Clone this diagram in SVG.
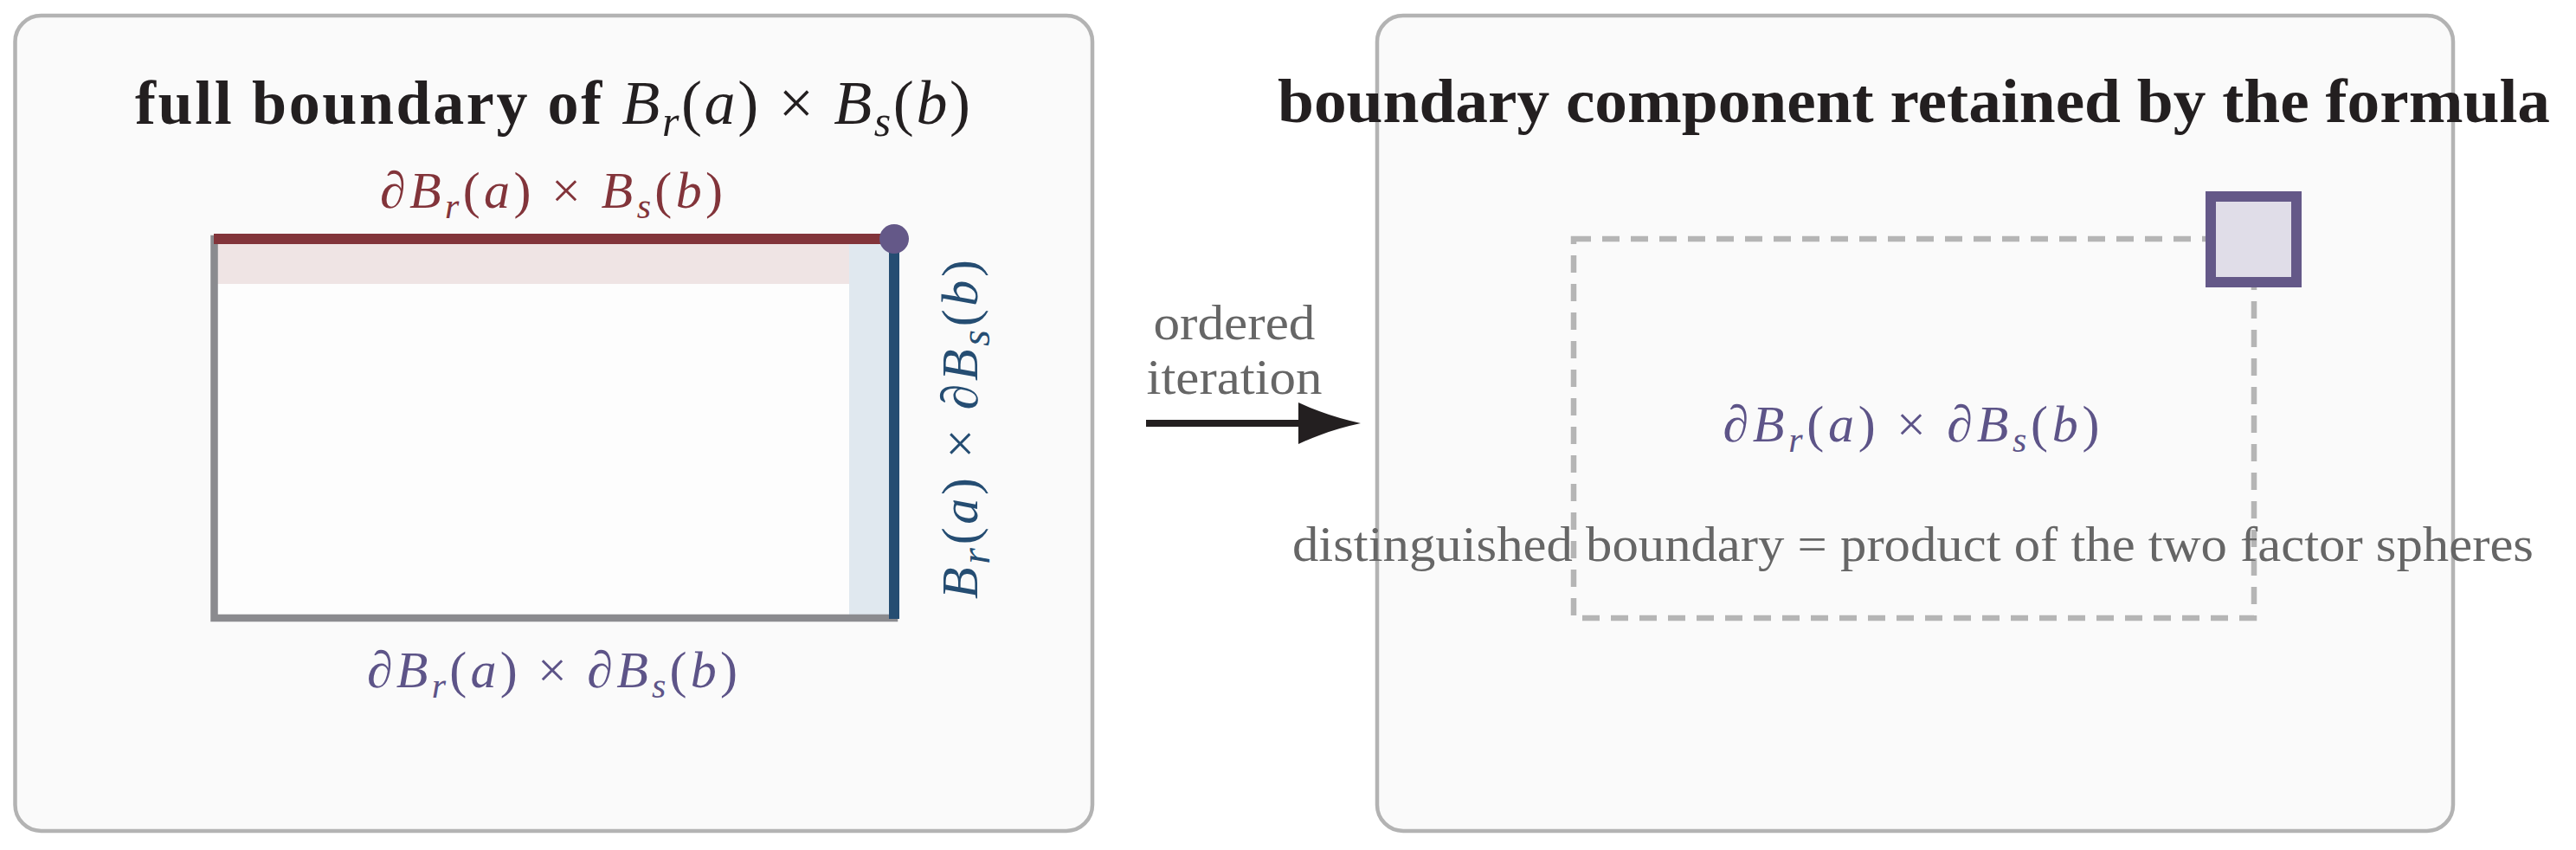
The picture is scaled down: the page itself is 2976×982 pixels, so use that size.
<svg xmlns="http://www.w3.org/2000/svg" width="2976" height="982" viewBox="0 0 2976 982">
  <style>
    .panel { fill: #fafafa; stroke: #b3b3b3; stroke-width: 4.5; }
    .title { font-family: "Liberation Serif", serif; font-weight: bold; font-size: 72px; fill: #231f20; }
    .math { font-family: "Liberation Serif", serif; font-size: 60px; }
    .it { font-style: italic; }
    .sub { font-size: 42px; }
    .note { font-family: "Liberation Serif", serif; font-size: 58px; fill: #666666; }
  </style>
  <defs>
    <marker id="arrowhead" markerUnits="userSpaceOnUse" markerWidth="74" markerHeight="50" refX="2" refY="24" orient="auto">
      <path d="M2,0 Q36,16 74,24 Q36,32 2,48 Z" fill="#231f20"/>
    </marker>
  </defs>

  <g id="panel-left">
    <rect class="panel" x="17.5" y="18" width="1244.5" height="942" rx="30"/>
    <text class="title" x="638.5" y="143" text-anchor="middle" textLength="965" lengthAdjust="spacing">full boundary of <tspan font-weight="normal" class="it">B</tspan><tspan font-weight="normal" class="it" font-size="50" dy="14">r</tspan><tspan font-weight="normal" dy="-14">(</tspan><tspan font-weight="normal" class="it">a</tspan><tspan font-weight="normal">) × </tspan><tspan font-weight="normal" class="it">B</tspan><tspan font-weight="normal" class="it" font-size="50" dy="14">s</tspan><tspan font-weight="normal" dy="-14">(</tspan><tspan font-weight="normal" class="it">b</tspan><tspan font-weight="normal">)</tspan></text>
  </g>

  <g id="product-rect">
    <rect x="247.5" y="276" width="785.5" height="438" fill="#fdfdfd"/>
    <rect x="247.5" y="282" width="733.5" height="46" fill="#efe4e4"/>
    <rect x="981" y="282" width="46" height="432" fill="#e0e8ef"/>
    <rect x="247.5" y="276" width="785.5" height="438" fill="none" stroke="#8b8b8f" stroke-width="8.5"/>
  </g>

  <g id="edge-top">
    <line x1="247" y1="276" x2="1033" y2="276" stroke="#82343a" stroke-width="12"/>
    <text class="math" x="637" y="240" text-anchor="middle" fill="#82343a" textLength="396" lengthAdjust="spacing">∂<tspan class="it">B</tspan><tspan class="it sub" dy="12">r</tspan><tspan dy="-12">(</tspan><tspan class="it">a</tspan><tspan>) × </tspan><tspan class="it">B</tspan><tspan class="it sub" dy="12">s</tspan><tspan dy="-12">(</tspan><tspan class="it">b</tspan>)</text>
  </g>

  <g id="edge-right">
    <line x1="1033" y1="276" x2="1033" y2="715" stroke="#254d72" stroke-width="12"/>
    <text class="math" x="1129" y="496" text-anchor="middle" fill="#254d72" font-size="68" transform="rotate(-90 1129 496)" textLength="392" lengthAdjust="spacing"><tspan class="it">B</tspan><tspan class="it" font-size="48" dy="14">r</tspan><tspan dy="-14">(</tspan><tspan class="it">a</tspan><tspan>) × ∂</tspan><tspan class="it">B</tspan><tspan class="it" font-size="48" dy="14">s</tspan><tspan dy="-14">(</tspan><tspan class="it">b</tspan>)</text>
  </g>

  <g id="corner-point">
    <circle cx="1033" cy="276" r="17" fill="#645888"/>
  </g>

  <g id="edge-bottom-label">
    <text class="math" x="638" y="794" text-anchor="middle" fill="#5d5488" textLength="428" lengthAdjust="spacing">∂<tspan class="it">B</tspan><tspan class="it sub" dy="12">r</tspan><tspan dy="-12">(</tspan><tspan class="it">a</tspan><tspan>) × ∂</tspan><tspan class="it">B</tspan><tspan class="it sub" dy="12">s</tspan><tspan dy="-12">(</tspan><tspan class="it">b</tspan>)</text>
  </g>

  <g id="connectors">
    <line x1="1324" y1="489" x2="1500" y2="489" stroke="#231f20" stroke-width="8" marker-end="url(#arrowhead)"/>
    <text class="note" x="1426" y="392" text-anchor="middle" textLength="187" lengthAdjust="spacingAndGlyphs">ordered</text>
    <text class="note" x="1426" y="455" text-anchor="middle" textLength="203" lengthAdjust="spacingAndGlyphs">iteration</text>
  </g>

  <g id="panel-right">
    <rect class="panel" x="1591" y="18" width="1243" height="942" rx="30"/>
    <text class="title" x="2211" y="141" text-anchor="middle" textLength="1470" lengthAdjust="spacingAndGlyphs">boundary component retained by the formula</text>
  </g>

  <g id="distinguished-boundary">
    <rect x="1818" y="276" width="786" height="438" fill="none" stroke="#b5b5b5" stroke-width="6.5" stroke-dasharray="20 13"/>
    <text class="math" x="2208" y="510" text-anchor="middle" fill="#5d5488" textLength="435" lengthAdjust="spacing">∂<tspan class="it">B</tspan><tspan class="it sub" dy="12">r</tspan><tspan dy="-12">(</tspan><tspan class="it">a</tspan><tspan>) × ∂</tspan><tspan class="it">B</tspan><tspan class="it sub" dy="12">s</tspan><tspan dy="-12">(</tspan><tspan class="it">b</tspan>)</text>
    <text class="note" x="2210" y="648" text-anchor="middle" font-size="56" textLength="1434" lengthAdjust="spacingAndGlyphs">distinguished boundary = product of the two factor spheres</text>
  </g>

  <g id="corner-torus">
    <rect x="2554" y="227" width="99" height="99" fill="#e0dde8" stroke="#645888" stroke-width="12"/>
  </g>
</svg>
